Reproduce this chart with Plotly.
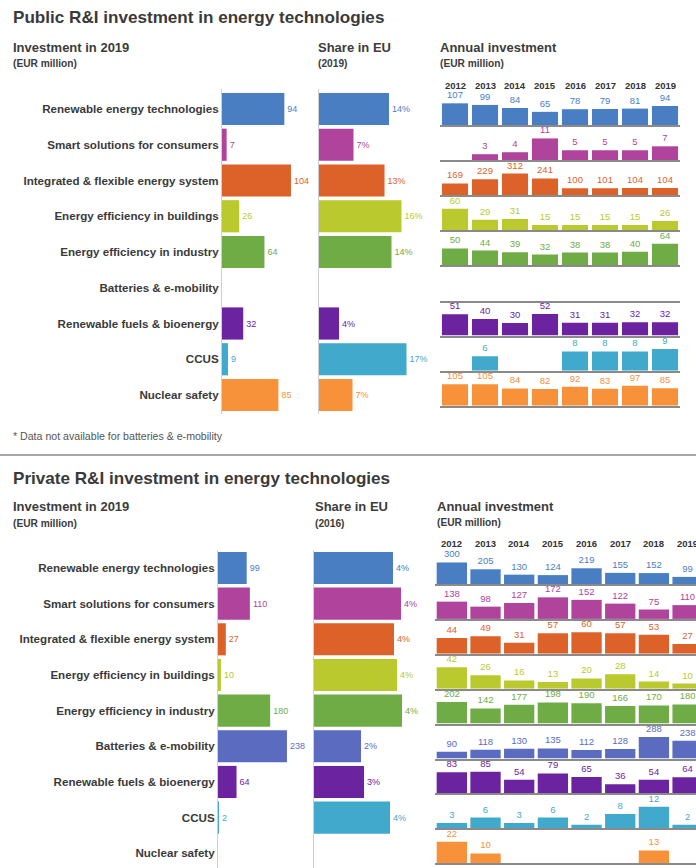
import plotly.graph_objects as go

W, H = 696, 868
FONT = "Liberation Sans, Arial, sans-serif"

categories = ["Renewable energy technologies", "Smart solutions for consumers",
              "Integrated & flexible energy system", "Energy efficiency in buildings",
              "Energy efficiency in industry", "Batteries & e-mobility",
              "Renewable fuels & bioenergy", "CCUS", "Nuclear safety"]
colors = ["#4A7EC2", "#B0449C", "#DD6229", "#BAC92E", "#70AC46",
          "#5B6CC0", "#6B239F", "#41A9CB", "#F7923B"]
years = ["2012", "2013", "2014", "2015", "2016", "2017", "2018", "2019"]

# ---------------- Public ----------------
public_invest_2019 = [94, 7, 104, 26, 64, None, 32, 9, 85]
public_share_2019 = [14.0, 6.9, 13.1, 16.5, 14.5, None, 4.0, 17.5, 6.7]
public_share_labels = ["14%", "7%", "13%", "16%", "14%", "", "4%", "17%", "7%"]

pub_renewable = [107, 99, 84, 65, 78, 79, 81, 94]
pub_smart = [None, 3, 4, 11, 5, 5, 5, 7]
pub_integrated = [169, 229, 312, 241, 100, 101, 104, 104]
pub_buildings = [60, 29, 31, 15, 15, 15, 15, 26]
pub_industry = [50, 44, 39, 32, 38, 38, 40, 64]
pub_batteries = [None, None, None, None, None, None, None, None]
pub_fuels = [51, 40, 30, 52, 31, 31, 32, 32]
pub_ccus = [None, 6, None, None, 8, 8, 8, 9]
pub_nuclear = [105, 105, 84, 82, 92, 83, 97, 85]
public_annual = [pub_renewable, pub_smart, pub_integrated, pub_buildings, pub_industry,
                 pub_batteries, pub_fuels, pub_ccus, pub_nuclear]

# ---------------- Private ----------------
private_invest_2019 = [99, 110, 27, 10, 180, 238, 64, 2, None]
private_share_2016 = [3.95, 4.35, 4.0, 4.15, 4.4, 2.35, 2.5, 3.8, None]
private_share_labels = ["4%", "4%", "4%", "4%", "4%", "2%", "3%", "4%", ""]

prv_renewable = [300, 205, 130, 124, 219, 155, 152, 99]
prv_smart = [138, 98, 127, 172, 152, 122, 75, 110]
prv_integrated = [44, 49, 31, 57, 60, 57, 53, 27]
prv_buildings = [42, 26, 16, 13, 20, 28, 14, 10]
prv_industry = [202, 142, 177, 198, 190, 166, 170, 180]
prv_batteries = [90, 118, 130, 135, 112, 128, 288, 238]
prv_fuels = [83, 85, 54, 79, 65, 36, 54, 64]
prv_ccus = [3, 6, 3, 6, 2, 8, 12, 2]
prv_nuclear = [22, 10, None, None, None, None, 13, None]
private_annual = [prv_renewable, prv_smart, prv_integrated, prv_buildings, prv_industry,
                  prv_batteries, prv_fuels, prv_ccus, prv_nuclear]

fig = go.Figure()
layout = {}
annotations = []
counter = [0]


def new_axes(xdom, ydom, xrange, yrange, xopts, yopts):
    counter[0] += 1
    n = counter[0]
    s = "" if n == 1 else str(n)
    layout["xaxis" + s] = dict(domain=[xdom[0] / W, min(xdom[1] / W, 1)], range=xrange,
                               anchor="y" + s, showgrid=False, zeroline=False, fixedrange=True, **xopts)
    layout["yaxis" + s] = dict(domain=[max(1 - ydom[1] / H, 0), 1 - ydom[0] / H], range=yrange,
                               anchor="x" + s, showgrid=False, zeroline=False, fixedrange=True, **yopts)
    return "x" + s, "y" + s


def text(x, y, s, size, bold=True, color="#3c3c3c"):
    annotations.append(dict(x=x / W, y=1 - y / H, xref="paper", yref="paper", text=s,
                            showarrow=False, xanchor="left", yanchor="middle",
                            font=dict(family=FONT, size=size, color=color,
                                      weight=700 if bold else 400)))


def hbar_panel(xdom, ydom, c0, step, xmax, values, labels, show_cats):
    T, B = ydom
    yr = [(B - c0) / step, (T - c0) / step]
    yopts = dict(showline=True, linecolor="#cfcfcf", linewidth=1, ticks="",
                 tickvals=list(range(len(categories))),
                 ticktext=categories if show_cats else [""] * len(categories),
                 showticklabels=show_cats,
                 tickfont=dict(family=FONT, size=11.6, color="#3a3a3a", weight=700))
    xa, ya = new_axes(xdom, ydom, [0, xmax], yr, dict(visible=False), yopts)
    fig.add_trace(go.Bar(
        x=values, y=list(range(len(categories))), orientation="h", width=0.9,
        marker=dict(color=colors, line=dict(width=0)),
        text=labels, textposition="outside", cliponaxis=False, constraintext="none",
        textfont=dict(family=FONT, size=9, color=colors),
        xaxis=xa, yaxis=ya, hoverinfo="skip"))


def annual_panel(xdom, xrange, base0, rstep, series, width, year_y):
    first_x = None
    for i, vals in enumerate(series):
        base = base0 + rstep * i
        vmax = max([v for v in vals if v is not None], default=1)
        xa, ya = new_axes(xdom, [base - rstep, base], xrange, [0, vmax * 1.62],
                          dict(showline=True, linecolor="#8a8a8a", linewidth=1.6,
                               showticklabels=False, ticks=""),
                          dict(visible=False))
        if first_x is None:
            first_x = xa
        fig.add_trace(go.Bar(
            x=list(range(len(years))), y=vals, width=width,
            marker=dict(color=colors[i], line=dict(width=0)),
            text=["" if v is None else str(v) for v in vals],
            textposition="outside", cliponaxis=False, constraintext="none",
            textfont=dict(family=FONT, size=9.5, color=colors[i]),
            xaxis=xa, yaxis=ya, hoverinfo="skip"))
    for j, yname in enumerate(years):
        annotations.append(dict(x=j, y=1 - year_y / H, xref=first_x, yref="paper", text=yname,
                                showarrow=False, xanchor="center", yanchor="middle",
                                font=dict(family=FONT, size=9.5, color="#333333", weight=700)))


# ---- Public section ----
text(11, 18, "Public R&I investment in energy technologies", 17.1, color="#3a3a3a")
text(11, 47, "Investment in 2019", 13)
text(11, 63, "(EUR million)", 10.2)
text(316, 47, "Share in EU", 13)
text(316, 63, "(2019)", 10.2)
text(438, 47, "Annual investment", 13)
text(438, 63, "(EUR million)", 10.2)

hbar_panel([222, 300], [89, 414], 109, 35.75, 117.6,
           public_invest_2019, ["" if v is None else str(v) for v in public_invest_2019], True)
hbar_panel([319, 430], [89, 414], 109, 35.75, 22.2, public_share_2019, public_share_labels, False)
annual_panel([440, 680], [-0.5, 7.5], 125, 35.1, public_annual, 0.87, 86)

text(11, 436, "* Data not available for batteries & e-mobility", 10.6, bold=False, color="#555555")

# ---- Private section ----
text(11, 478, "Private R&I investment in energy technologies", 17.1, color="#3a3a3a")
text(11, 506, "Investment in 2019", 13)
text(11, 523, "(EUR million)", 10.2)
text(313, 506, "Share in EU", 13)
text(313, 523, "(2016)", 10.2)
text(435, 506, "Annual investment", 13)
text(435, 522, "(EUR million)", 10.2)

hbar_panel([218, 300], [550, 868], 568, 35.66, 283,
           private_invest_2019, ["" if v is None else str(v) for v in private_invest_2019], True)
hbar_panel([314, 430], [550, 868], 568, 35.66, 5.8, private_share_2016, private_share_labels, False)
annual_panel([435, 696], [-0.5, 7.25], 584, 34.9, private_annual, 0.9, 543)

layout.update(dict(
    width=W, height=H, margin=dict(l=0, r=0, t=0, b=0),
    paper_bgcolor="white", plot_bgcolor="white", showlegend=False,
    font=dict(family=FONT), annotations=annotations, bargap=0.1,
    shapes=[dict(type="line", xref="paper", yref="paper", x0=0, x1=1,
                 y0=1 - 455 / H, y1=1 - 455 / H, line=dict(color="#8a8a8a", width=1.5))],
))
fig.update_layout(**layout)
fig.write_html("out.html", config={"displayModeBar": False},
               post_script="document.body.style.margin='0';document.body.style.overflow='hidden';")
